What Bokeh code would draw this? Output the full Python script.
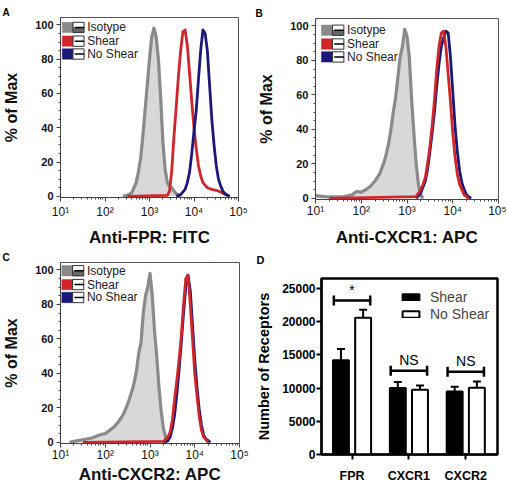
import numpy as np
from bokeh.plotting import figure
from bokeh.models import Range1d, FixedTicker, Legend, LegendItem, ColumnDataSource, Title
from bokeh.layouts import row, column
from bokeh.embed import file_html
from bokeh.resources import INLINE
from bokeh.core.properties import value

# ---------------- data ----------------
# x values are log10 of fluorescence intensity, y values are % of Max
# Panel A: Anti-FPR: FITC
A_ISO_LOG = [2.40, 2.50, 2.60, 2.70, 2.75, 2.80, 2.85, 2.90, 2.95, 3.00, 3.05, 3.10, 3.15, 3.20,
             3.25, 3.30, 3.35, 3.40, 3.45, 3.50, 3.55, 3.60, 3.70]
A_ISO_PCT = [0, 0.5, 2, 8, 14, 22, 35, 50, 65, 80, 93, 98, 93, 80, 58, 32, 16, 8, 6, 5, 3, 1.5, 0]
A_SHEAR_LOG = [2.50, 3.40, 3.45, 3.50, 3.55, 3.60, 3.65, 3.70, 3.75, 3.80, 3.85, 3.90, 3.95, 4.00,
               4.05, 4.10, 4.15, 4.20, 4.30, 4.40, 4.50, 4.60, 4.70, 4.80]
A_SHEAR_PCT = [0, 0.5, 3, 15, 35, 52, 70, 85, 96, 97, 88, 72, 55, 40, 28, 18, 12, 8, 5, 4, 3.5,
               2.5, 1, 0]
A_NOSHEAR_LOG = [3.60, 3.70, 3.80, 3.85, 3.90, 3.95, 4.00, 4.05, 4.10, 4.15, 4.20, 4.25, 4.30,
                 4.35, 4.40, 4.45, 4.50, 4.55, 4.60, 4.65, 4.70, 4.80]
A_NOSHEAR_PCT = [0, 1, 4, 8, 14, 25, 38, 50, 68, 85, 97, 95, 85, 65, 45, 30, 18, 10, 6, 3, 1.5, 0]

# Panel B: Anti-CXCR1: APC
B_ISO_LOG = [1.00, 1.20, 1.40, 1.60, 1.80, 1.90, 2.00, 2.10, 2.20, 2.30, 2.40, 2.50, 2.55, 2.60,
             2.65, 2.70, 2.75, 2.80, 2.85, 2.90, 2.95, 3.00, 3.05, 3.10, 3.15, 3.20, 3.25, 3.30,
             3.35]
B_ISO_PCT = [1.5, 1, 0.8, 0.8, 2, 4, 3.5, 5, 7, 10, 14, 21, 26, 32, 40, 50, 58, 70, 82, 88, 98,
             94, 82, 58, 38, 20, 8, 2, 0]
B_SHEAR_LOG = [1.30, 3.20, 3.30, 3.35, 3.40, 3.45, 3.50, 3.55, 3.60, 3.65, 3.70, 3.75, 3.80, 3.85,
               3.90, 3.95, 4.00, 4.05, 4.10, 4.15, 4.20, 4.25, 4.35]
B_SHEAR_PCT = [0, 1, 5, 8, 12, 20, 30, 42, 57, 75, 88, 96, 97, 88, 72, 56, 38, 24, 14, 8, 5, 2, 0]
B_NOSHEAR_LOG = [3.20, 3.30, 3.40, 3.45, 3.50, 3.55, 3.60, 3.65, 3.70, 3.75, 3.80, 3.85, 3.90,
                 3.95, 4.00, 4.05, 4.10, 4.15, 4.20, 4.25, 4.30, 4.40]
B_NOSHEAR_PCT = [0, 3, 10, 17, 27, 38, 50, 65, 78, 88, 93, 97, 96, 82, 62, 42, 27, 16, 9, 5, 2, 0]

# Panel C: Anti-CXCR2: APC
C_ISO_LOG = [1.20, 1.30, 1.50, 1.70, 1.90, 2.00, 2.10, 2.20, 2.30, 2.40, 2.50, 2.60, 2.65, 2.70,
             2.75, 2.80, 2.85, 2.90, 2.95, 3.00, 3.05, 3.10, 3.15, 3.20, 3.25, 3.30, 3.35, 3.40]
C_ISO_PCT = [0, 0.5, 1.5, 2.5, 4.5, 5, 7, 9, 12, 16, 22, 30, 35, 42, 52, 58, 75, 85, 90, 98, 85,
             65, 50, 32, 18, 8, 3, 0]
C_SHEAR_LOG = [1.50, 3.30, 3.40, 3.45, 3.50, 3.55, 3.60, 3.65, 3.70, 3.75, 3.80, 3.85, 3.90, 3.95,
               4.00, 4.05, 4.10, 4.15, 4.20, 4.30]
C_SHEAR_PCT = [0, 0.5, 3, 6, 13, 25, 36, 48, 62, 80, 95, 97, 80, 60, 40, 27, 15, 7, 3, 0]
C_NOSHEAR_LOG = [3.30, 3.40, 3.45, 3.50, 3.55, 3.60, 3.65, 3.70, 3.75, 3.80, 3.85, 3.90, 3.95,
                 4.00, 4.05, 4.10, 4.15, 4.20, 4.25, 4.35]
C_NOSHEAR_PCT = [0, 1, 3, 8, 16, 28, 42, 58, 75, 90, 97, 88, 68, 48, 32, 19, 10, 4, 2, 0]

XTICK_EXP = [1, 2, 3, 4, 5]
XTICK_LABELS = ["10\u00b9", "10\u00b2", "10\u00b3", "10\u2074", "10\u2075"]
YTICKS_PCT = [0, 20, 40, 60, 80, 100]
LEGEND_LABELS = ["Isotype", "Shear", "No Shear"]

# Panel D: receptor numbers
RECEPTORS = ["FPR", "CXCR1", "CXCR2"]
SHEAR_MEAN = [14200, 10000, 9500]
SHEAR_ERR = [1700, 900, 700]
NOSHEAR_MEAN = [20600, 9750, 10050]
NOSHEAR_ERR = [1200, 650, 950]
SIG_LABELS = ["*", "NS", "NS"]
SIG_Y = [23200, 12600, 12450]
YTICKS_D = [0, 5000, 10000, 15000, 20000, 25000]

# ---------------- style ----------------
FONT = "Liberation Sans"
GRAY_LINE = "#8a8a8a"
GRAY_FILL = "#d8d8d8"
RED = "#d0252a"
NAVY = "#1c1878"
LEG_COLORS = [GRAY_LINE, RED, NAVY]
LEG_ROWS = [98.5, 90.5, 83.0]
LEG_HALF = 3.0


def panel_letter(p, letter, offset, size="10px", spacer_px=None):
    p.title.text = letter
    p.title.align = "left"
    p.title.vertical_align = "bottom"
    p.title.offset = offset
    p.title.standoff = 0
    p.title.text_font = FONT
    p.title.text_font_size = size
    p.title.text_font_style = "bold"
    p.title.text_color = "black"
    if spacer_px:
        # blank title row that lifts the panel letter away from the frame
        p.add_layout(Title(text=" ", text_font_size=spacer_px, standoff=0, text_color="white"),
                     "above")


def hist_panel(w, h, bl, br, bt, bb, xlabel, tick_sd, xlabel_sd, ylabel_sd, leg_x0, leg_dy, curves):
    p = figure(width=w, height=h, x_axis_type="log",
               x_range=Range1d(10 ** XTICK_EXP[0], 10 ** XTICK_EXP[-1]),
               y_range=Range1d(-0.7, 104.3), output_backend="svg", toolbar_location=None,
               min_border_left=bl, min_border_right=br, min_border_top=bt, min_border_bottom=bb)
    p.grid.visible = False
    p.outline_line_color = "#555555"
    p.outline_line_width = 1
    p.background_fill_color = "white"
    p.border_fill_color = "white"

    xa = p.xaxis[0]
    xa.ticker = FixedTicker(ticks=[10 ** e for e in XTICK_EXP],
                            minor_ticks=[m * 10 ** e for e in XTICK_EXP[:-1] for m in range(2, 10)])
    xa.major_label_overrides = {10 ** e: lab for e, lab in zip(XTICK_EXP, XTICK_LABELS)}
    xa.major_label_text_font = FONT
    xa.major_label_text_font_size = "12px"
    xa.major_label_text_color = "#111111"
    xa.major_label_standoff = tick_sd
    xa.axis_label = xlabel
    xa.axis_label_text_font = FONT
    xa.axis_label_text_font_style = "bold"
    xa.axis_label_text_font_size = "17px"
    xa.axis_label_text_color = "#111111"
    xa.axis_label_standoff = xlabel_sd

    ya = p.yaxis[0]
    ya.ticker = FixedTicker(ticks=YTICKS_PCT, minor_ticks=list(range(0, 101, 5)))
    ya.major_label_text_font = FONT
    ya.major_label_text_font_size = "11px"
    ya.major_label_text_font_style = "bold"
    ya.major_label_text_color = "#111111"
    ya.major_label_standoff = 3
    ya.axis_label = "% of Max"
    ya.axis_label_text_font = FONT
    ya.axis_label_text_font_style = "bold"
    ya.axis_label_text_font_size = "16px"
    ya.axis_label_text_color = "#111111"
    ya.axis_label_standoff = ylabel_sd

    for ax in (xa, ya):
        ax.axis_line_color = "#444444"
        ax.major_tick_line_color = "#444444"
        ax.minor_tick_line_color = "#444444"
        ax.major_tick_in = 0
        ax.major_tick_out = 4
        ax.minor_tick_in = 0
        ax.minor_tick_out = 2

    for logs, pcts, color, width, fill in curves:
        x = 10.0 ** np.array(logs)
        y = np.array(pcts, dtype=float)
        if fill:
            p.varea(x=x, y1=np.zeros_like(y), y2=y, fill_color=fill)
        p.line(x, y, line_color=color, line_width=width, line_join="round")

    # FlowJo-style legend
    c_left, c_right = leg_x0, leg_x0 + 0.24
    w_left, w_right = c_right, c_right + 0.25
    for i, (lab, col) in enumerate(zip(LEGEND_LABELS, LEG_COLORS)):
        yc = LEG_ROWS[i] + leg_dy
        p.quad(left=[10 ** c_left], right=[10 ** c_right], bottom=[yc - LEG_HALF], top=[yc + LEG_HALF],
               fill_color=col, line_color=col, line_width=0.5)
        lower = "#666666" if i == 0 else "white"
        p.quad(left=[10 ** w_left], right=[10 ** w_right], bottom=[yc - LEG_HALF], top=[yc],
               fill_color=lower, line_color=None)
        p.quad(left=[10 ** w_left], right=[10 ** w_right], bottom=[yc - LEG_HALF], top=[yc + LEG_HALF],
               fill_color=None, line_color="#333333", line_width=1)
        p.segment(x0=[10 ** (w_left + 0.04)], x1=[10 ** w_right], y0=[yc], y1=[yc],
                  line_color="black", line_width=1.5)
        p.text(x=[10 ** (leg_x0 + 0.56)], y=[yc], text=[lab], text_font=value(FONT),
               text_font_size="12px", text_baseline="middle", text_align="left", text_color="#222222")
    return p


pA = hist_panel(253, 249, 58, 15, 17, 51, "Anti-FPR: FITC", 3, 6, 12, 1.04, 0,
                [(A_ISO_LOG, A_ISO_PCT, GRAY_LINE, 3.2, GRAY_FILL),
                 (A_SHEAR_LOG, A_SHEAR_PCT, RED, 2.8, None),
                 (A_NOSHEAR_LOG, A_NOSHEAR_PCT, NAVY, 2.8, None)])
panel_letter(pA, "A", -58)

pB = hist_panel(253, 249, 62, 8, 18, 49, "Anti-CXCR1: APC", 0, 7, 12, 1.13, -1,
                [(B_ISO_LOG, B_ISO_PCT, GRAY_LINE, 3.2, GRAY_FILL),
                 (B_NOSHEAR_LOG, B_NOSHEAR_PCT, NAVY, 2.8, None),
                 (B_SHEAR_LOG, B_SHEAR_PCT, RED, 2.8, None)])
panel_letter(pB, "B", -60)

pC = hist_panel(253, 241, 58, 14, 13, 47, "Anti-CXCR2: APC", 0, 0, 12, 1.03, 1,
                [(C_ISO_LOG, C_ISO_PCT, GRAY_LINE, 3.2, GRAY_FILL),
                 (C_NOSHEAR_LOG, C_NOSHEAR_PCT, NAVY, 2.8, None),
                 (C_SHEAR_LOG, C_SHEAR_PCT, RED, 2.8, None)])
panel_letter(pC, "C", -58)

# ---------------- Panel D ----------------
BAR_OFF = 0.195
BAR_W = 0.28
CAP = 0.07
BR_HALF = 0.32
BR_TICK = 750

pD = figure(width=253, height=241, x_range=Range1d(-0.537, 2.558), y_range=Range1d(0, 26500),
            output_backend="svg", toolbar_location=None,
            min_border_left=67, min_border_right=9, min_border_top=29, min_border_bottom=36)
pD.grid.visible = False
pD.outline_line_color = "black"
pD.outline_line_width = 2.5
pD.background_fill_color = "white"
pD.border_fill_color = "white"
panel_letter(pD, "D", -65, "11px", "10px")

idx = np.arange(len(RECEPTORS), dtype=float)
xs = idx - BAR_OFF
xn = idx + BAR_OFF
s_mean = np.array(SHEAR_MEAN, dtype=float)
n_mean = np.array(NOSHEAR_MEAN, dtype=float)
s_top = s_mean + np.array(SHEAR_ERR)
n_top = n_mean + np.array(NOSHEAR_ERR)

# error bars (upper only)
pD.segment(x0=xs, x1=xs, y0=s_mean, y1=s_top, line_color="black", line_width=2)
pD.segment(x0=xs - CAP, x1=xs + CAP, y0=s_top, y1=s_top, line_color="black", line_width=2)
pD.segment(x0=xn, x1=xn, y0=n_mean, y1=n_top, line_color="black", line_width=2)
pD.segment(x0=xn - CAP, x1=xn + CAP, y0=n_top, y1=n_top, line_color="black", line_width=2)

src = ColumnDataSource(dict(xs=xs, xn=xn, s=s_mean, n=n_mean))
r_s = pD.vbar(x="xs", top="s", bottom=0, width=BAR_W, fill_color="black", line_color="black",
              line_width=2, source=src)
r_n = pD.vbar(x="xn", top="n", bottom=0, width=BAR_W, fill_color="white", line_color="black",
              line_width=2, source=src)

# significance brackets
sig_y = np.array(SIG_Y, dtype=float)
pD.segment(x0=idx - BR_HALF, x1=idx + BR_HALF, y0=sig_y, y1=sig_y, line_color="black", line_width=2.5)
pD.segment(x0=idx - BR_HALF, x1=idx - BR_HALF, y0=sig_y - BR_TICK, y1=sig_y + BR_TICK,
           line_color="black", line_width=2.5)
pD.segment(x0=idx + BR_HALF, x1=idx + BR_HALF, y0=sig_y - BR_TICK, y1=sig_y + BR_TICK,
           line_color="black", line_width=2.5)
pD.text(x=idx, y=sig_y + 400, text=SIG_LABELS, text_font=value(FONT), text_font_size="14px",
        text_align="center", text_baseline="bottom", text_color="black")

legD = Legend(items=[LegendItem(label="Shear", renderers=[r_s]),
                     LegendItem(label="No Shear", renderers=[r_n])],
              location=(79, 132), border_line_color=None, background_fill_alpha=0,
              glyph_width=21, glyph_height=8, label_standoff=9, label_text_font=FONT,
              label_text_font_size="14px", label_height=16, spacing=1, padding=2, margin=0)
pD.add_layout(legD)

xa = pD.xaxis[0]
xa.ticker = FixedTicker(ticks=list(idx))
xa.major_label_overrides = {float(i): lab for i, lab in zip(idx, RECEPTORS)}
xa.major_label_text_font = FONT
xa.major_label_text_font_style = "bold"
xa.major_label_text_font_size = "12.5px"
xa.major_label_text_color = "black"
xa.major_label_standoff = 9

ya = pD.yaxis[0]
ya.ticker = FixedTicker(ticks=YTICKS_D)
ya.major_label_text_font = FONT
ya.major_label_text_font_style = "bold"
ya.major_label_text_font_size = "12px"
ya.major_label_text_color = "black"
ya.major_label_standoff = 1
ya.axis_label = "Number of Receptors"
ya.axis_label_text_font = FONT
ya.axis_label_text_font_style = "bold"
ya.axis_label_text_font_size = "14.5px"
ya.axis_label_text_color = "black"
ya.axis_label_standoff = 7

for ax in (xa, ya):
    ax.axis_line_color = "black"
    ax.axis_line_width = 2
    ax.major_tick_line_color = "black"
    ax.major_tick_line_width = 2
    ax.major_tick_in = 0
    ax.major_tick_out = 5
    ax.minor_tick_line_color = None

# each figure wrapped on its own so that the layout does not align their frames
layout = column(row(column(pA), column(pB)), row(column(pC), column(pD)))

open("out.html", "w").write(file_html(layout, INLINE))
